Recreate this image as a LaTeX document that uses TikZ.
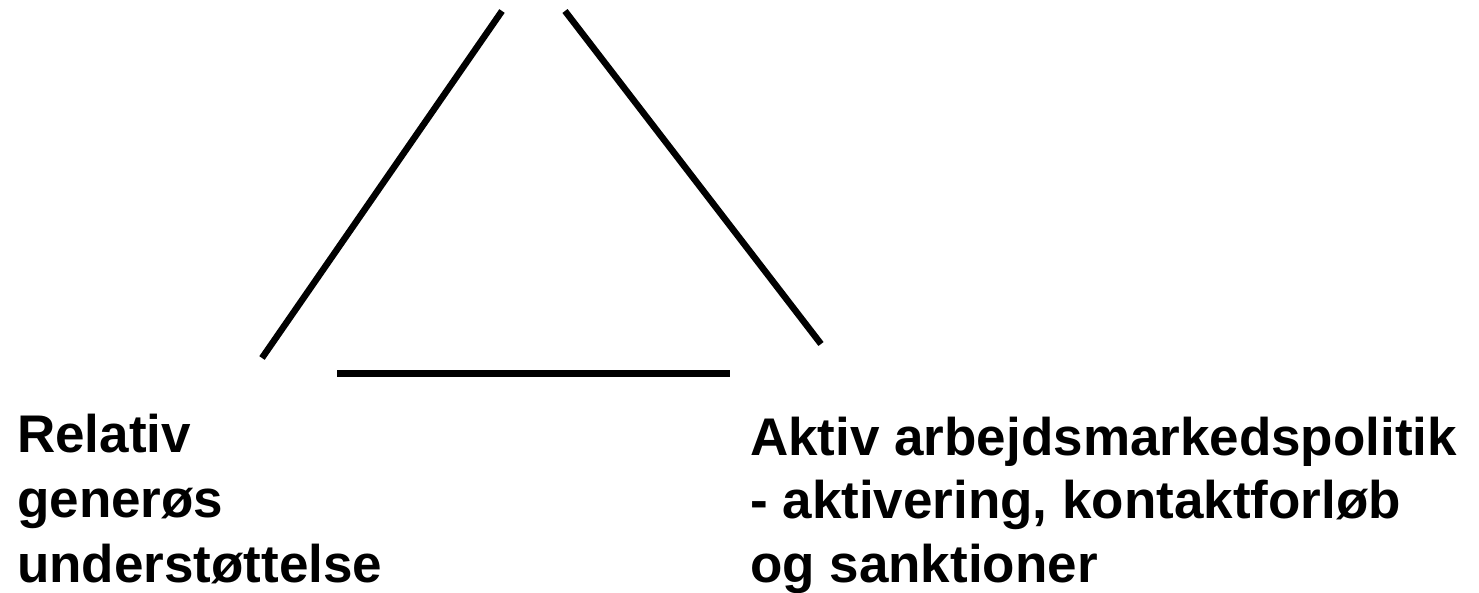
\documentclass[tikz,border=0pt]{standalone}
\usepackage{fontspec}
\setmainfont{Liberation Sans}
\begin{document}
\begin{tikzpicture}[x=1pt,y=-1pt,
  edge/.style={line width=6.5pt,black},
  label/.style={font=\fontsize{53}{63}\selectfont\bfseries,anchor=base west,inner sep=0pt}]
\useasboundingbox (0,0) rectangle (1479,593);
\coordinate (l1) at (262,358);
\coordinate (l2) at (502,11);
\coordinate (r1) at (565,11);
\coordinate (r2) at (821,344);
\coordinate (b1) at (337,373);
\coordinate (b2) at (730,373);
\draw[edge] (l1) -- (l2);
\draw[edge] (r1) -- (r2);
\draw[edge,line width=7pt] (b1) -- (b2);
\node[label] (a1) at (17,452) {Relativ};
\node[label] (a2) at (17,517) {generøs};
\node[label] (a3) at (17,582) {understøttelse};
\node[label] (c1) at (750,455) {Aktiv arbejdsmarkedspolitik};
\node[label] (c2) at (750,518) {- aktivering, kontaktforløb};
\node[label] (c3) at (750,582) {og sanktioner};
\end{tikzpicture}
\end{document}
